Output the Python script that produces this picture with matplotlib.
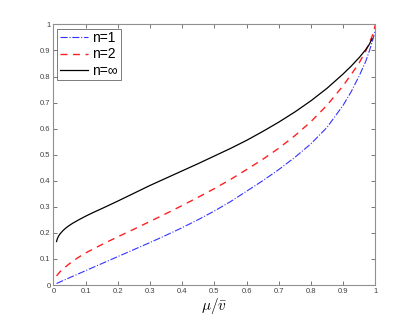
import matplotlib
matplotlib.use('Agg')
import matplotlib.pyplot as plt

plt.rcParams['font.family'] = ['Liberation Sans', 'DejaVu Sans']
plt.rcParams['mathtext.fontset'] = 'cm'

# values
x_inf = [0.01, 0.012, 0.015, 0.02, 0.03, 0.04, 0.05, 0.06, 0.08, 0.1, 0.125, 0.15, 0.2, 0.25,
         0.3, 0.35, 0.4, 0.45, 0.5, 0.55, 0.6, 0.65, 0.7, 0.75, 0.8, 0.85, 0.9, 0.925, 0.95,
         0.97, 0.98, 0.99]
y_inf = [0.167, 0.176, 0.185, 0.195, 0.209, 0.220, 0.229, 0.237, 0.251, 0.264, 0.279, 0.293,
         0.322, 0.352, 0.382, 0.410, 0.438, 0.466, 0.495, 0.524, 0.555, 0.589, 0.625, 0.664,
         0.707, 0.755, 0.810, 0.840, 0.873, 0.903, 0.921, 0.945]

x_n2 = [0.01, 0.02, 0.03, 0.05, 0.075, 0.1, 0.15, 0.2, 0.25, 0.3, 0.35, 0.4, 0.45, 0.5, 0.55,
        0.6, 0.65, 0.7, 0.75, 0.8, 0.85, 0.9, 0.925, 0.95, 0.97, 0.98, 0.99, 0.995, 1.0]
y_n2 = [0.035, 0.050, 0.062, 0.082, 0.104, 0.123, 0.155, 0.185, 0.214, 0.244, 0.274, 0.305,
        0.337, 0.370, 0.405, 0.443, 0.482, 0.525, 0.573, 0.627, 0.690, 0.765, 0.808, 0.853,
        0.898, 0.925, 0.955, 0.973, 1.0]

x_n1 = [0.01, 0.05, 0.1, 0.15, 0.2, 0.25, 0.3, 0.35, 0.4, 0.45, 0.5, 0.55, 0.6, 0.65, 0.7,
        0.75, 0.8, 0.85, 0.9, 0.925, 0.95, 0.97, 0.98, 0.99, 0.995, 1.0]
y_n1 = [0.006, 0.028, 0.055, 0.082, 0.109, 0.136, 0.163, 0.191, 0.220, 0.251, 0.284, 0.320,
        0.360, 0.400, 0.443, 0.490, 0.542, 0.605, 0.690, 0.742, 0.803, 0.858, 0.893, 0.932,
        0.955, 0.98]

ticks = [0, 0.1, 0.2, 0.3, 0.4, 0.5, 0.6, 0.7, 0.8, 0.9, 1]
tick_labels = ['0', '0.1', '0.2', '0.3', '0.4', '0.5', '0.6', '0.7', '0.8', '0.9', '1']

fig = plt.figure(figsize=(4.15, 3.21), dpi=100)
ax = fig.add_axes([0.1285, 0.112, 0.776, 0.812])

ax.plot(x_n1, y_n1, '-.', color='#3333ff', lw=0.8, label='n=1')
ax.plot(x_n2, y_n2, '--', color='#ff2020', lw=1.0, dashes=(5, 4), label='n=2')
ax.plot(x_inf, y_inf, '-', color='black', lw=0.9, label='n=∞')

ax.set_xlim(0, 1)
ax.set_ylim(0, 1)
ax.set_xticks(ticks)
ax.set_xticklabels(tick_labels)
ax.set_yticks(ticks)
ax.set_yticklabels(tick_labels)
ax.tick_params(direction='in', length=3, width=0.5, labelsize=5.5, colors='#404040',
               top=True, right=True, pad=2)
for s in ax.spines.values():
    s.set_color('#909090')
    s.set_linewidth(0.8)

ax.set_xlabel('$\\mu/\\bar{v}$', fontsize=11, labelpad=1)

leg = ax.legend(loc='upper left', fontsize=10, frameon=True, fancybox=False,
                handlelength=2.0, handletextpad=0.3, borderpad=0.2,
                labelspacing=0.15, borderaxespad=0.3)
leg.get_frame().set_edgecolor('#404040')
leg.get_frame().set_linewidth(0.6)

fig.savefig('out.png', dpi=100)
